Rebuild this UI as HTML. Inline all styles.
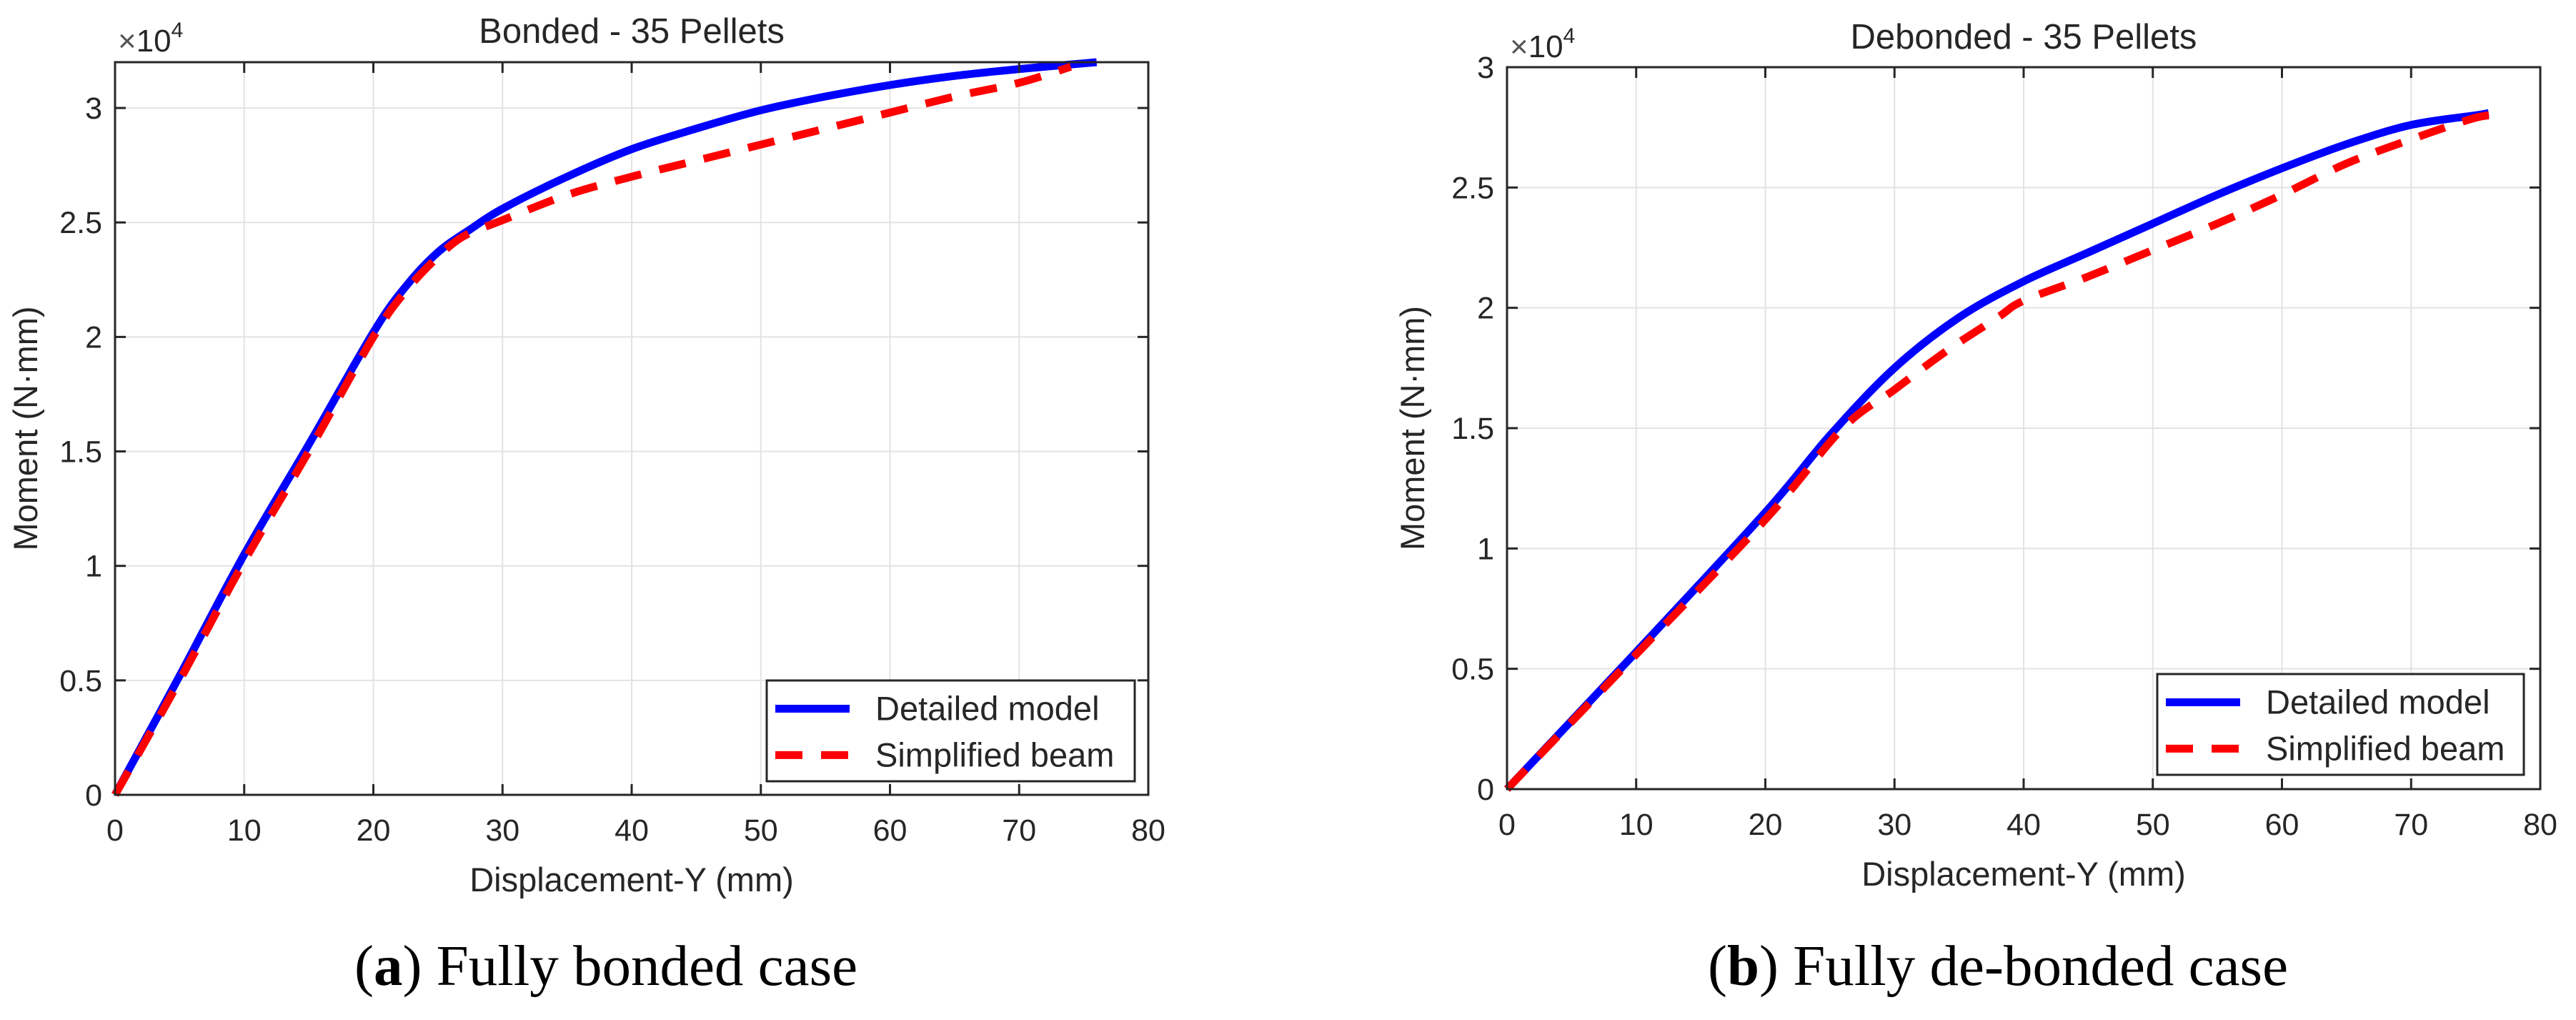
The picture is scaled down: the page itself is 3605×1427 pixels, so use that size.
<!DOCTYPE html>
<html><head><meta charset="utf-8"><style>
html,body{margin:0;padding:0;background:#fff;}
svg{display:block;}
text{font-family:"Liberation Sans",Arial,sans-serif;fill:#262626;}
.cap{font-family:"Liberation Serif",serif;fill:#000;}
</style></head><body>
<svg id="fig" width="3605" height="1427" viewBox="0 0 3605 1427" xmlns="http://www.w3.org/2000/svg"></svg>
<script>
// ---- data (Moment in units of 1e4 N·mm) ----
const xTicks = [0,10,20,30,40,50,60,70,80];
const yTicksA = [0,0.5,1,1.5,2,2.5,3];
const yTickLabelsA = ["0","0.5","1","1.5","2","2.5","3"];
const yTicksB = [0,0.5,1,1.5,2,2.5,3];
const yTickLabelsB = ["0","0.5","1","1.5","2","2.5","3"];
const bondedDetailedX = [0,5,10,15,20,22.5,25,27.5,30,35,40,45,50,55,60,65,70,76];
const bondedDetailedY = [0,0.52,1.05,1.53,2.02,2.22,2.37,2.47,2.56,2.7,2.82,2.91,2.99,3.05,3.1,3.14,3.17,3.2];
const bondedSimpleX = [0,5,10,15,20,22.5,25,27,30,35,40,45,50,55,60,65,70,74];
const bondedSimpleY = [0,0.5,1.02,1.5,2.0,2.2,2.35,2.44,2.51,2.62,2.7,2.77,2.84,2.91,2.98,3.05,3.11,3.18];
const debondedDetailedX = [0,10,20,25,30,35,40,45,50,55,60,65,70,75,76];
const debondedDetailedY = [0,0.57,1.15,1.47,1.75,1.96,2.11,2.23,2.35,2.47,2.58,2.68,2.76,2.8,2.81];
const debondedSimpleX = [0,10,20,26,30,34,38,40,45,50,55,60,65,70,75,77];
const debondedSimpleY = [0,0.56,1.12,1.5,1.66,1.82,1.96,2.03,2.13,2.24,2.35,2.47,2.6,2.7,2.79,2.8];

const NS="http://www.w3.org/2000/svg";
const svg=document.getElementById('fig');
function mk(tag,attrs,parent){const e=document.createElementNS(NS,tag);for(const k in attrs)e.setAttribute(k,attrs[k]);(parent||svg).appendChild(e);return e;}
function smoothPath(P){
  let d='M'+P[0][0].toFixed(1)+','+P[0][1].toFixed(1);
  for(let i=0;i<P.length-1;i++){
    const p0=P[i-1]||P[i],p1=P[i],p2=P[i+1],p3=P[i+2]||P[i+1];
    const c1=[p1[0]+(p2[0]-p0[0])/6,p1[1]+(p2[1]-p0[1])/6];
    const c2=[p2[0]-(p3[0]-p1[0])/6,p2[1]-(p3[1]-p1[1])/6];
    d+=' C'+c1[0].toFixed(1)+','+c1[1].toFixed(1)+' '+c2[0].toFixed(1)+','+c2[1].toFixed(1)+' '+p2[0].toFixed(1)+','+p2[1].toFixed(1);
  }
  return d;
}

function panel(p){
  const g=mk('g',{});
  
  
  const sx=v=>p.L+(v-0)/(80-0)*(p.R-p.L);
  const sy=v=>p.B-(v-0)/(p.ymax-0)*(p.B-p.T);
  xTicks.forEach(t=>{const l=mk('line',{x1:sx(t),x2:sx(t),y1:p.T,y2:p.B,stroke:'#e3e3e3','stroke-width':2},g);
    
    });
  p.yTicks.forEach(t=>{const l=mk('line',{x1:p.L,x2:p.R,y1:sy(t),y2:sy(t),stroke:'#e3e3e3','stroke-width':2},g);
    
    });
  function series(xs,ys,color,dash,name){
    const P=xs.map((x,i)=>[sx(x),sy(ys[i])]);
    const a={d:smoothPath(P),fill:'none',stroke:color,'stroke-width':11,'stroke-linejoin':'round'};
    if(dash)a['stroke-dasharray']=dash;
    const pl=mk('path',a,g);
    
    
  }
  series(p.dx,p.dy,'#0000ff',null,'detailed-model-line');
  series(p.sx_,p.sy_,'#ff0000','38 26','simplified-beam-line');
  const box=mk('rect',{x:p.L,y:p.T,width:p.R-p.L,height:p.B-p.T,fill:'none',stroke:'#262626','stroke-width':3},g);
  
  
  xTicks.forEach(t=>{
    mk('line',{x1:sx(t),x2:sx(t),y1:p.B,y2:p.B-15,stroke:'#262626','stroke-width':3},g);
    mk('line',{x1:sx(t),x2:sx(t),y1:p.T,y2:p.T+15,stroke:'#262626','stroke-width':3},g);
    const tx=mk('text',{x:sx(t),y:p.B+64,'font-size':43,'text-anchor':'middle'},g);
    tx.textContent=t;
    
    
  });
  p.yTicks.forEach((t,i)=>{
    mk('line',{x1:p.L,x2:p.L+15,y1:sy(t),y2:sy(t),stroke:'#262626','stroke-width':3},g);
    mk('line',{x1:p.R,x2:p.R-15,y1:sy(t),y2:sy(t),stroke:'#262626','stroke-width':3},g);
    const tx=mk('text',{x:p.L-18,y:sy(t)+15,'font-size':43,'text-anchor':'end'},g);
    tx.textContent=p.yLabels[i];
    
    
  });
  const ex=mk('text',{x:p.L+4,y:p.expY,'font-size':44},g);
  
  
  ex.innerHTML='<tspan fill="#555">×</tspan>10<tspan dy="-20" font-size="30">4</tspan>';
  const ti=mk('text',{x:(p.L+p.R)/2,y:p.titleY,'font-size':49,'text-anchor':'middle',fill:'#000'},g);
  ti.textContent=p.title;
  
  
  const xl=mk('text',{x:(p.L+p.R)/2,y:p.B+135,'font-size':47,'text-anchor':'middle'},g);
  xl.textContent='Displacement-Y (mm)';
  
  
  const yl=mk('text',{x:0,y:0,'font-size':47,'text-anchor':'middle',transform:`translate(${p.yLabX},${(p.T+p.B)/2}) rotate(-90)`},g);
  yl.textContent='Moment (N·mm)';
  
  
  const lg=mk('g',{},g);
  
  
  mk('rect',{x:p.lgL,y:p.lgT,width:p.lgR-p.lgL,height:p.lgB-p.lgT,fill:'#fff',stroke:'#262626','stroke-width':3},lg);
  const r1=(p.lgT*0.72+p.lgB*0.28), r2=(p.lgT*0.26+p.lgB*0.74);
  const l1=mk('line',{x1:p.lgL+12,x2:p.lgL+116,y1:r1,y2:r1,stroke:'#0000ff','stroke-width':11},lg);
  
  
  const l2=mk('line',{x1:p.lgL+12,x2:p.lgL+116,y1:r2,y2:r2,stroke:'#ff0000','stroke-width':11,'stroke-dasharray':'38 26'},lg);
  
  
  const t1=mk('text',{x:p.lgL+152,y:r1+16,'font-size':47,fill:'#000'},lg);
  t1.textContent='Detailed model';
  
  
  const t2=mk('text',{x:p.lgL+152,y:r2+16,'font-size':47,fill:'#000'},lg);
  t2.textContent='Simplified beam';
  
  
  const cp=mk('text',{x:p.capX,y:1378,'font-size':81,'text-anchor':'middle',class:'cap'},g);
  cp.innerHTML='(<tspan font-weight="bold">'+p.capL+'</tspan>) '+p.cap;
  
  
}

panel({name:'bonded-chart',L:161,R:1607,T:87,B:1112,ymax:3.2,yTicks:yTicksA,yLabels:yTickLabelsA,
  dx:bondedDetailedX,dy:bondedDetailedY,sx_:bondedSimpleX,sy_:bondedSimpleY,
  title:'Bonded - 35 Pellets',titleY:60,expY:72,yLabX:52,
  lgL:1073,lgR:1588,lgT:952,lgB:1093,capX:848,capL:'a',cap:'Fully bonded case'});
panel({name:'debonded-chart',L:2109,R:3555,T:94,B:1104,ymax:3,yTicks:yTicksB,yLabels:yTickLabelsB,
  dx:debondedDetailedX,dy:debondedDetailedY,sx_:debondedSimpleX,sy_:debondedSimpleY,
  title:'Debonded - 35 Pellets',titleY:68,expY:80,yLabX:1993,
  lgL:3019,lgR:3532,lgT:943,lgB:1084,capX:2796,capL:'b',cap:'Fully de-bonded case'});
</script>
</body></html>
